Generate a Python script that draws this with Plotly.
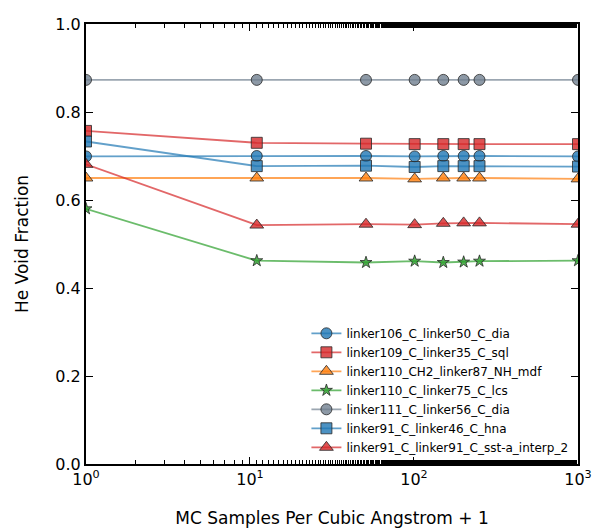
import plotly.graph_objects as go

# MC sampling density (+1) used for each run
samples = [1, 11, 51, 101, 151, 201, 251, 1001]

# He void fraction per structure
linker106_C_linker50_C_dia = [0.699, 0.700, 0.700, 0.699, 0.700, 0.700, 0.700, 0.699]
linker109_C_linker35_C_sql = [0.757, 0.730, 0.728, 0.727, 0.727, 0.727, 0.727, 0.727]
linker110_CH2_linker87_NH_mdf = [0.650, 0.650, 0.650, 0.648, 0.650, 0.650, 0.650, 0.648]
linker110_C_linker75_C_lcs = [0.580, 0.462, 0.458, 0.461, 0.458, 0.459, 0.461, 0.462]
linker111_C_linker56_C_dia = [0.873, 0.873, 0.873, 0.873, 0.873, 0.873, 0.873, 0.873]
linker91_C_linker46_C_hna = [0.733, 0.677, 0.678, 0.675, 0.677, 0.677, 0.677, 0.676]
linker91_C_linker91_C_sst = [0.681, 0.543, 0.545, 0.544, 0.547, 0.548, 0.548, 0.545]

x_tickvals = [1, 10, 100, 1000]
x_ticktext = ["10<sup>0</sup>", "10<sup>1</sup>", "10<sup>2</sup>", "10<sup>3</sup>"]
y_tickvals = [0.0, 0.2, 0.4, 0.6, 0.8, 1.0]
y_ticktext = ["0.0", "0.2", "0.4", "0.6", "0.8", "1.0"]

BLUE = (31, 119, 180)
RED = (214, 39, 40)
ORANGE = (255, 127, 14)
GREEN = (44, 160, 44)
GRAY = (112, 128, 144)

series = [
    ("linker106_C_linker50_C_dia", linker106_C_linker50_C_dia, BLUE, "circle", 11),
    ("linker109_C_linker35_C_sql", linker109_C_linker35_C_sql, RED, "square", 11),
    ("linker110_CH2_linker87_NH_mdf", linker110_CH2_linker87_NH_mdf, ORANGE, "triangle-up", 12),
    ("linker110_C_linker75_C_lcs", linker110_C_linker75_C_lcs, GREEN, "star", 9),
    ("linker111_C_linker56_C_dia", linker111_C_linker56_C_dia, GRAY, "circle", 11),
    ("linker91_C_linker46_C_hna", linker91_C_linker46_C_hna, BLUE, "square", 11),
    ("linker91_C_linker91_C_sst-a_interp_2", linker91_C_linker91_C_sst, RED, "triangle-up", 12),
]


def rgba(c, a):
    return f"rgba({c[0]},{c[1]},{c[2]},{a})"


fig = go.Figure()
for name, vals, col, sym, size in series:
    fig.add_trace(go.Scatter(
        x=samples, y=vals, name=name, mode="lines+markers",
        line=dict(color=rgba(col, 0.7), width=1.8),
        marker=dict(symbol=sym, size=size, color=rgba(col, 0.8),
                    line=dict(color="rgba(40,40,40,0.8)", width=1)),
    ))

font = "DejaVu Sans, sans-serif"
fig.update_layout(
    width=595, height=529,
    margin=dict(l=86, r=17, t=24, b=65),
    paper_bgcolor="white", plot_bgcolor="white",
    font=dict(family=font, color="black"),
    showlegend=True,
    legend=dict(
        x=0.448, y=0.33, xanchor="left", yanchor="top",
        font=dict(size=12, family=font), bgcolor="rgba(255,255,255,0)",
        tracegroupgap=0, itemwidth=30,
    ),
)
fig.update_xaxes(
    type="log", range=[0, 3.0004], automargin=False,
    tickvals=x_tickvals, ticktext=x_ticktext,
    tickfont=dict(size=16), ticks="inside", ticklen=7, tickwidth=1, tickcolor="black",
    minor=dict(ticks="inside", ticklen=4, tickcolor="black", showgrid=False),
    showline=True, linewidth=2, linecolor="black", mirror="ticks",
    showgrid=False, zeroline=False,
    title=dict(text="MC Samples Per Cubic Angstrom + 1", font=dict(size=17), standoff=24),
)
fig.update_yaxes(
    range=[0, 1], automargin=False,
    tickvals=y_tickvals, ticktext=y_ticktext,
    tickfont=dict(size=16), ticks="inside", ticklen=7, tickwidth=1, tickcolor="black",
    showline=True, linewidth=2, linecolor="black", mirror="ticks",
    showgrid=False, zeroline=False,
    title=dict(text="He Void Fraction", font=dict(size=17), standoff=22),
)

fig.write_html("out.html")
